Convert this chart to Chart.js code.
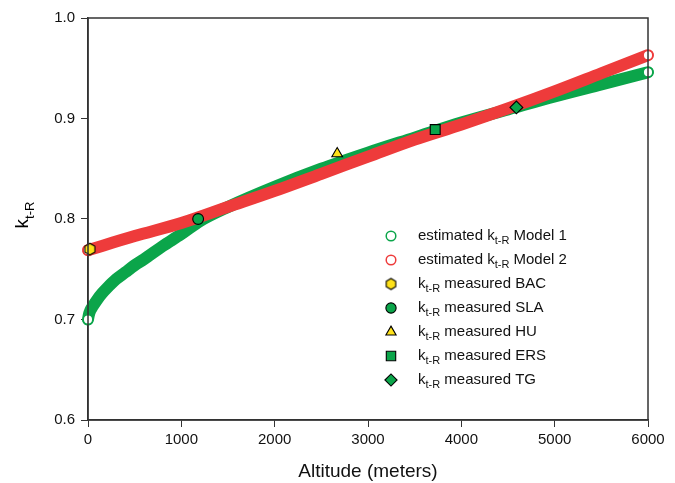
<!DOCTYPE html>
<html>
<head>
<meta charset="utf-8">
<script src="https://cdn.jsdelivr.net/npm/chart.js@4.4.1/dist/chart.umd.min.js"></script>
<style>html,body{margin:0;padding:0;background:#fff}</style>
</head>
<body>
<canvas id="chart" width="675" height="483"></canvas>
<script>
'use strict';

// model 1 (green) - altitude in meters / k t-R
const model1Alt = [0, 10, 25, 50, 100, 150, 200, 300, 400, 500, 600, 800, 1000, 1200, 1500, 2000, 2500, 3000, 3500, 4000, 4500, 5000, 5500, 6000];
const model1K   = [0.700, 0.705, 0.709, 0.713, 0.720, 0.726, 0.731, 0.740, 0.747, 0.754, 0.760, 0.773, 0.785, 0.798, 0.812, 0.832, 0.850, 0.866, 0.881, 0.896, 0.909, 0.922, 0.934, 0.946];

// model 2 (red)
const model2Alt = [0, 500, 1000, 1500, 2000, 2500, 3000, 3500, 4000, 4500, 5000, 5500, 6000];
const model2K   = [0.769, 0.783, 0.796, 0.812, 0.828, 0.845, 0.862, 0.879, 0.894, 0.910, 0.927, 0.945, 0.963];

// measured stations
const stationNames = ['BAC', 'SLA', 'HU', 'ERS', 'TG'];
const stationAlt   = [20, 1180, 2670, 3720, 4590];
const stationK     = [0.770, 0.800, 0.865, 0.889, 0.911];

const xTicks = [0, 1000, 2000, 3000, 4000, 5000, 6000];
const yTicks = [0.6, 0.7, 0.8, 0.9, 1.0];

const GREEN = '#0BA54A';
const RED = '#EE3B3B';
const YELLOW = '#FFE21A';
const AXIS = '#333';
const FONT = "Arial, 'Liberation Sans', sans-serif";

// hexagon marker (no built-in style for it)
function hexagon(r, fill) {
  const c = document.createElement('canvas');
  const s = Math.ceil(r * 2 + 4);
  c.width = c.height = s;
  const g = c.getContext('2d');
  g.beginPath();
  for (let i = 0; i < 6; i++) {
    const a = Math.PI / 2 + i * Math.PI / 3;
    const px = s / 2 + r * Math.cos(a), py = s / 2 + r * Math.sin(a);
    i ? g.lineTo(px, py) : g.moveTo(px, py);
  }
  g.closePath();
  g.fillStyle = fill; g.fill();
  g.lineWidth = 1.1; g.strokeStyle = '#000'; g.stroke();
  return c;
}

const stationStyle  = [hexagon(5.8, YELLOW), 'circle', 'triangle', 'rect', 'rectRot'];
const stationLegendStyle = [hexagon(5.5, YELLOW), 'circle', 'triangle', 'rect', 'rectRot'];
const stationFill   = [YELLOW, GREEN, YELLOW, GREEN, GREEN];
const stationRadius = [6, 5.4, 6.2, 7, 6.4];

// legend text pieces (subscript drawn separately)
const legendPre  = ['estimated k', 'estimated k'].concat(stationNames.map(() => 'k'));
const legendPost = [' Model 1', ' Model 2'].concat(stationNames.map(n => ' measured ' + n));

const curve = (alt, k) => alt.map((x, i) => ({ x, y: k[i] }));
const endsOnly = (n, r) => (c) => (c.dataIndex === 0 || c.dataIndex === n - 1) ? r : 0;

const datasets = [];
stationNames.forEach((n, i) => {
  datasets.push({
    label: n,
    data: [{ x: stationAlt[i], y: stationK[i] }],
    pointStyle: stationStyle[i],
    pointRadius: stationRadius[i],
    pointBackgroundColor: stationFill[i],
    pointBorderColor: '#000',
    pointBorderWidth: 1.1,
    clip: false,
    order: 0
  });
});
datasets.push({
  label: 'Model 2',
  data: curve(model2Alt, model2K),
  showLine: true, borderColor: RED, borderWidth: 12,
  borderCapStyle: 'round', borderJoinStyle: 'round', cubicInterpolationMode: 'monotone',
  pointRadius: endsOnly(model2Alt.length, 4.8),
  pointBackgroundColor: '#fff', pointBorderColor: RED, pointBorderWidth: 1.5,
  clip: false, order: 1
});
datasets.push({
  label: 'Model 1',
  data: curve(model1Alt, model1K),
  showLine: true, borderColor: GREEN, borderWidth: 12,
  borderCapStyle: 'round', borderJoinStyle: 'round', cubicInterpolationMode: 'monotone',
  pointRadius: endsOnly(model1Alt.length, 4.8),
  pointBackgroundColor: '#fff', pointBorderColor: GREEN, pointBorderWidth: 1.5,
  clip: false, order: 2
});

// frame, y title with subscript, legend
const extras = {
  id: 'extras',
  afterDraw(chart) {
    const ctx = chart.ctx;
    const a = chart.chartArea;
    ctx.save();
    ctx.strokeStyle = AXIS;
    ctx.lineWidth = 1.5;
    ctx.strokeRect(a.left, a.top, a.right - a.left, a.bottom - a.top);

    // y title
    ctx.fillStyle = '#000';
    ctx.translate(28, 215);
    ctx.rotate(-Math.PI / 2);
    ctx.textBaseline = 'alphabetic';
    ctx.font = '19px ' + FONT;
    const kw = ctx.measureText('k').width;
    ctx.font = '13px ' + FONT;
    const sw = ctx.measureText('t-R').width;
    const x0 = -(kw + sw) / 2;
    ctx.font = '19px ' + FONT;
    ctx.fillText('k', x0, 0);
    ctx.font = '13px ' + FONT;
    ctx.fillText('t-R', x0 + kw, 6);
    ctx.restore();

    // legend
    ctx.save();
    const mx = 391, tx = 418, y0 = 236, step = 24;
    const styles = [{ s: 'circle', r: 4.8, f: '#fff', b: GREEN, w: 1.5 }, { s: 'circle', r: 4.8, f: '#fff', b: RED, w: 1.5 }]
      .concat(stationNames.map((n, i) => ({ s: stationLegendStyle[i], r: stationRadius[i] * 0.95, f: stationFill[i], b: '#000', w: 1.1 })));
    legendPre.forEach((pre, i) => {
      const y = y0 + i * step;
      const st = styles[i];
      ctx.fillStyle = st.f; ctx.strokeStyle = st.b; ctx.lineWidth = st.w;
      Chart.helpers.drawPoint(ctx, { pointStyle: st.s, radius: st.r, rotation: 0, borderWidth: st.w }, mx, y);
      ctx.fillStyle = '#111';
      ctx.textBaseline = 'middle';
      ctx.font = '15px ' + FONT;
      ctx.fillText(pre, tx, y);
      let x = tx + ctx.measureText(pre).width;
      ctx.font = '11px ' + FONT;
      ctx.fillText('t-R', x, y + 5);
      x += ctx.measureText('t-R').width;
      ctx.font = '15px ' + FONT;
      ctx.fillText(legendPost[i], x, y);
    });
    ctx.restore();
  }
};

new Chart(document.getElementById('chart'), {
  type: 'scatter',
  data: { datasets },
  plugins: [extras],
  options: {
    responsive: false,
    animation: false,
    devicePixelRatio: 1,
    layout: { padding: { left: 0, right: 27, top: 18, bottom: 0 } },
    plugins: { legend: { display: false }, tooltip: { enabled: false } },
    scales: {
      x: {
        type: 'linear', min: 0, max: 6000,
        afterBuildTicks: s => { s.ticks = xTicks.map(v => ({ value: v })); },
        afterFit: s => { s.height = 63; },
        ticks: { callback: v => String(v), color: '#111', font: { family: FONT, size: 15 }, padding: 4, maxRotation: 0 },
        grid: { drawOnChartArea: false, drawTicks: true, tickLength: 7, color: AXIS },
        border: { display: true, color: AXIS, width: 1.5 },
        title: { display: true, text: 'Altitude (meters)', color: '#111', font: { family: FONT, size: 19 }, padding: { top: 0, bottom: 0 } }
      },
      y: {
        type: 'linear', min: 0.6, max: 1.0,
        afterBuildTicks: s => { s.ticks = yTicks.map(v => ({ value: v })); },
        afterFit: s => { s.width = 88; },
        ticks: { callback: v => v.toFixed(1), color: '#111', font: { family: FONT, size: 15 }, padding: 6 },
        grid: { drawOnChartArea: false, drawTicks: true, tickLength: 7, color: AXIS },
        border: { display: true, color: AXIS, width: 1.5 }
      }
    }
  }
});
</script>
</body>
</html>
